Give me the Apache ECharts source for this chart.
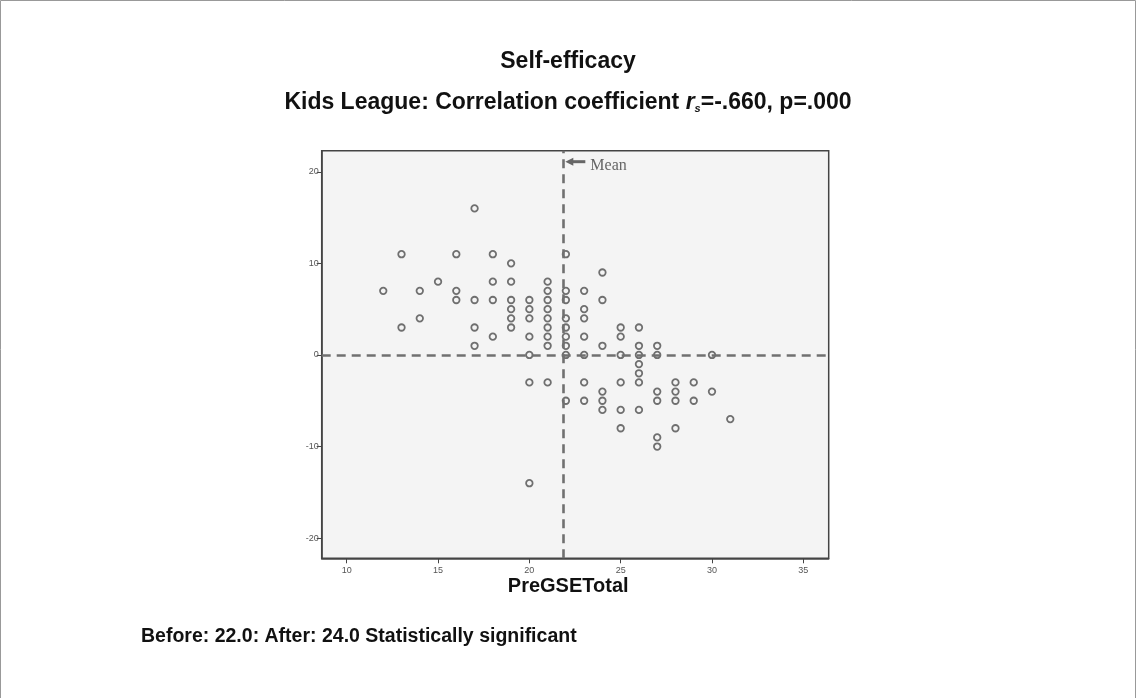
<!DOCTYPE html>
<html>
<head>
<meta charset="utf-8">
<script src="https://cdn.jsdelivr.net/npm/echarts@6/dist/echarts.min.js"></script>
<style>
html,body{margin:0;padding:0;background:#fff;}
#chart{width:1136px;height:699px;}
</style>
</head>
<body>
<div id="chart"></div>
<script>
// PreGSETotal (x) and change score (y) per respondent
const preScores = [
  12,
  13,13,
  14,14,
  15,
  16,16,16,
  17,17,17,17,
  18,18,18,18,
  19,19,19,19,19,19,
  20,20,20,20,20,20,20,
  21,21,21,21,21,21,21,21,21,
  22,22,22,22,22,22,22,22,22,
  23,23,23,23,23,23,23,
  24,24,24,24,24,24,
  25,25,25,25,25,25,
  26,26,26,26,26,26,26,
  27,27,27,27,27,27,
  28,28,28,28,
  29,29,
  30,30,
  31
];
const changeScores = [
  7,
  11,3,
  7,4,
  8,
  11,7,6,
  16,6,3,1,
  11,8,6,2,
  10,8,6,5,4,3,
  6,5,4,2,0,-3,-14,
  8,7,6,5,4,3,2,1,-3,
  11,7,6,4,3,2,1,0,-5,
  7,5,4,2,0,-3,-5,
  9,6,1,-4,-5,-6,
  3,2,0,-3,-6,-8,
  3,1,0,-1,-2,-3,-6,
  1,0,-4,-5,-9,-10,
  -3,-4,-5,-8,
  -3,-5,
  0,-4,
  -7
];
const xTicks = [10, 15, 20, 25, 30, 35];
const yTicks = [-20, -10, 0, 10, 20];
const meanX = 21.86;
const refY = 0;
const titleText = 'Self-efficacy';
const xName = 'PreGSETotal';
const footText = 'Before: 22.0: After: 24.0 Statistically significant';

const points = preScores.map((x, i) => [x, changeScores[i]]);
const FONT = '"Liberation Sans", Arial, sans-serif';
const SMALL = '"Liberation Sans", Arial, sans-serif';

const chart = echarts.init(document.getElementById('chart'));
chart.setOption({
  animation: false,
  backgroundColor: '#ffffff',
  title: [
    { text: titleText, left: 'center', top: 45,
      textStyle: { fontFamily: FONT, fontWeight: 'bold', fontSize: 23, color: '#111' } },
    { text: 'Kids League: Correlation coefficient {i|r}{s|s}=-.660, p=.000', left: 'center', top: 86,
      textStyle: { fontFamily: FONT, fontWeight: 'bold', fontSize: 23, color: '#111',
        rich: {
          i: { fontFamily: FONT, fontWeight: 'bold', fontStyle: 'italic', fontSize: 23, color: '#111' },
          s: { fontFamily: FONT, fontWeight: 'bold', fontStyle: 'italic', fontSize: 11, color: '#111', verticalAlign: 'bottom', padding: [9, 0, 0, 0] }
        } } },
    { text: footText, left: 136, top: 622,
      textStyle: { fontFamily: FONT, fontWeight: 'bold', fontSize: 19.5, color: '#111' } }
  ],
  grid: {
    left: 321.7, top: 150.7, right: 307.3, bottom: 140.7,
    show: true, backgroundColor: '#f4f4f4', borderColor: '#444', borderWidth: 1.5
  },
  xAxis: {
    type: 'value', min: 8.63, max: 36.39,
    name: xName, nameLocation: 'middle', nameGap: 18, nameMoveOverlap: false,
    nameTextStyle: { fontFamily: FONT, fontWeight: 'bold', fontSize: 20, color: '#111', verticalAlign: 'top', padding: [0, 14, 0, 0] },
    axisLine: { show: true, onZero: false, lineStyle: { color: '#444', width: 1.5 } },
    axisTick: { show: true, length: 5, lineStyle: { color: '#444' }, customValues: xTicks },
    axisLabel: { fontFamily: SMALL, fontSize: 9, color: '#555', margin: 8, customValues: xTicks },
    splitLine: { show: false }
  },
  yAxis: {
    type: 'value', min: -22.2, max: 22.3,
    axisLine: { show: true, onZero: false, lineStyle: { color: '#444', width: 1.5 } },
    axisTick: { show: true, length: 5, lineStyle: { color: '#444' }, customValues: yTicks },
    axisLabel: { fontFamily: SMALL, fontSize: 9, color: '#555', margin: 3, customValues: yTicks },
    splitLine: { show: false }
  },
  series: [{
    type: 'scatter',
    data: points,
    symbol: 'circle',
    symbolSize: 6.5,
    itemStyle: { color: 'rgba(0,0,0,0)', borderColor: '#4e4e4e', borderWidth: 1.8 },
    markLine: {
      silent: true, symbol: 'none', animation: false,
      label: { show: false },
      lineStyle: { color: '#707070', width: 2.6, type: [9, 6] },
      data: [{ yAxis: refY }, { xAxis: meanX }]
    },
    z: 3
  }]
});

// "Mean" annotation placed through the axes' scales
const p = chart.convertToPixel({ gridIndex: 0 }, [meanX, 21.1]);
const ax = p[0] + 2, ay = p[1];
chart.setOption({
  graphic: [
    { type: 'line', shape: { x1: ax + 5, y1: ay, x2: ax + 20, y2: ay }, style: { stroke: '#666', lineWidth: 3 }, z: 10 },
    { type: 'polygon', shape: { points: [[ax, ay], [ax + 8, ay - 4], [ax + 8, ay + 4]] }, style: { fill: '#666' }, z: 10 },
    { type: 'text', x: ax + 25, y: ay + 4, style: { text: 'Mean', fontFamily: '"Liberation Serif", "Times New Roman", serif', fontSize: 16, fill: '#666', verticalAlign: 'middle' }, z: 10 },
    { type: 'polyline', shape: { points: [[0.5, 698], [0.5, 0.5], [1135.5, 0.5], [1135.5, 698]] }, style: { stroke: '#999', lineWidth: 1, fill: null }, z: 10 }
  ]
});
</script>
</body>
</html>
